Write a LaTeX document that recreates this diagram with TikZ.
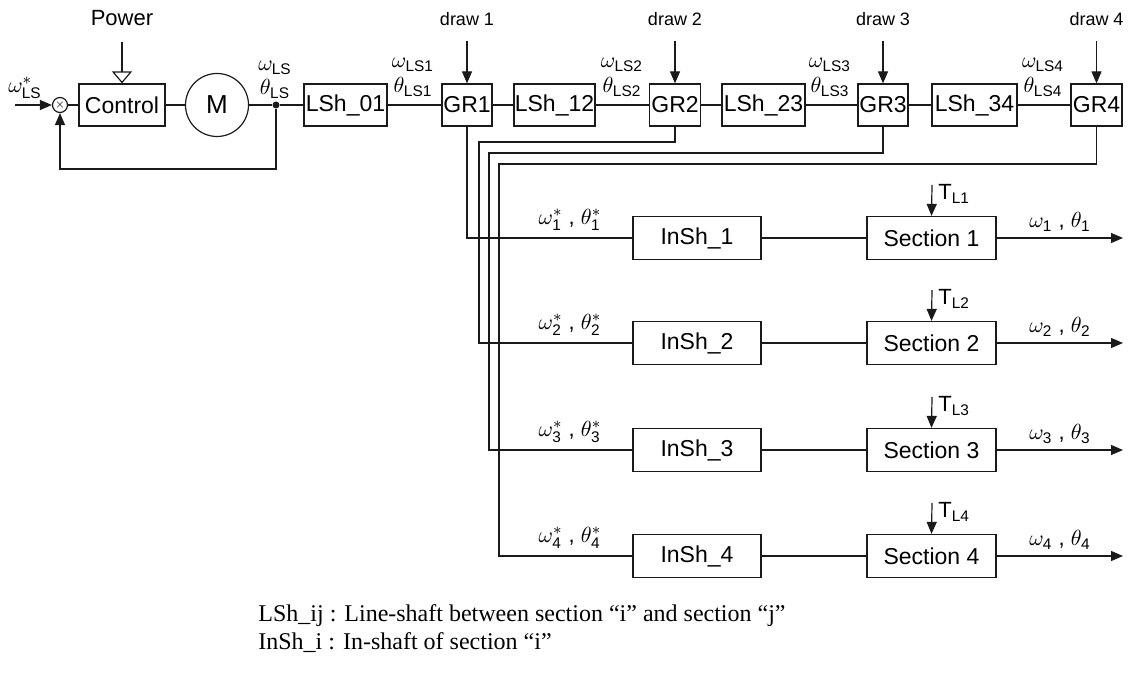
\documentclass[tikz,border=0pt]{standalone}
\usepackage{amsmath}
\usepackage{fontspec}
\setmainfont{Liberation Sans}
\newfontfamily\legendfont{Liberation Serif}
\usepackage{tikz}
\usetikzlibrary{calc,arrows.meta}
\definecolor{lineBlack}{HTML}{1A1A1A}
\tikzset{
  shaftbox/.style={rectangle, draw=lineBlack, line width=0.6pt, align=center, font=\fontsize{11.5}{13}\selectfont, minimum height=21pt, inner sep=0pt},
  motorcirc/.style={circle, draw=lineBlack, line width=0.6pt, font=\fontsize{13}{15}\selectfont, minimum size=31.5pt, inner sep=0pt},
  sumcirc/.style={circle, draw=lineBlack, line width=0.6pt, minimum size=7.5pt, inner sep=0pt, font=\tiny},
  tapdot/.style={circle, fill=lineBlack, minimum size=3.5pt, inner sep=0pt},
  flowarrow/.style={-{Triangle[length=6pt,width=5pt]}, line width=0.6pt, draw=lineBlack},
  powerarrow/.style={-{Triangle[open,length=6pt,width=10pt]}, line width=0.6pt, draw=lineBlack},
  shaftline/.style={line width=0.6pt, draw=lineBlack},
  siglabel/.style={font=\fontsize{11}{13}\selectfont, inner sep=1pt},
  drawlabel/.style={font=\fontsize{9}{11}\selectfont, inner sep=1pt},
  legendtext/.style={font=\legendfont\fontsize{12}{14}\selectfont, anchor=west, inner sep=0pt},
}

\begin{document}
\begin{tikzpicture}[x=0.5pt,y=-0.5pt]
  \useasboundingbox (0,0) rectangle (1128,673);

  % drive and line-shaft
  \node[sumcirc] (sum) at (60,105) {$\times$};
  \node[shaftbox, minimum width=43pt] (ctrl) at (122,105) {Control};
  \node[motorcirc] (motor) at (217,105) {M};
  \node[tapdot] (tap) at (276,105) {};
  \node[shaftbox, minimum width=41.5pt] (lsh01) at (345.5,105) {LSh\_01};
  \node[shaftbox, minimum width=25pt] (gr1) at (467,105) {GR1};
  \node[shaftbox, minimum width=40.5pt] (lsh12) at (554.5,105) {LSh\_12};
  \node[shaftbox, minimum width=25.5pt] (gr2) at (675,105) {GR2};
  \node[shaftbox, minimum width=41.5pt] (lsh23) at (763.5,105) {LSh\_23};
  \node[shaftbox, minimum width=25pt] (gr3) at (883,105) {GR3};
  \node[shaftbox, minimum width=42.5pt] (lsh34) at (974.5,105) {LSh\_34};
  \node[shaftbox, minimum width=25.5pt] (gr4) at (1096.5,105) {GR4};

  \coordinate (ref) at (15,105);
  \node[siglabel] (wref) at (25,88) {$\omega^{*}_{\text{LS}}$};
  \node[font=\fontsize{11}{13}\selectfont] (power) at (122,18) {Power};
  \coordinate (pw) at (122,42);

  \draw[flowarrow] (ref) -- (sum.west);
  \draw[powerarrow] (pw) -- (ctrl.north);
  \draw[shaftline] (sum) -- (ctrl) -- (motor) -- (tap) -- (lsh01) -- (gr1) -- (lsh12) -- (gr2) -- (lsh23) -- (gr3) -- (lsh34) -- (gr4);
  \draw[flowarrow] (tap) -- ++(0,64) -| (sum.south);

  \node[siglabel] (wls) at (275,68) {$\omega_{\text{LS}}$};
  \node[siglabel] (thls) at (275,89) {$\theta_{\text{LS}}$};
  \foreach \i/\x in {1/413,2/622,3/830,4/1043}{
    \node[siglabel] (wls\i) at (\x,65) {$\omega_{\text{LS\i}}$};
    \node[siglabel] (thls\i) at (\x,87) {$\theta_{\text{LS\i}}$};
    \node[drawlabel] (dl\i) at ($(gr\i.north)+(0,-64)$) {draw \i};
    \draw[flowarrow] ($(gr\i.north)+(0,-42)$) -- (gr\i.north);
  }

  % sections
  \foreach \i/\y in {1/238,2/343,3/450,4/556}{
    \node[shaftbox, minimum width=64pt, minimum height=21.5pt] (insh\i) at (697,\y) {InSh\_\i};
    \node[shaftbox, minimum width=64.5pt, minimum height=21.5pt] (sec\i) at (931.5,\y) {Section \i};
    \coordinate (tl\i) at (932,\y-53);
    \coordinate (out\i) at (1123,\y);
    \draw[shaftline] (insh\i) -- (sec\i);
    \draw[flowarrow] (tl\i) -- (sec\i.north);
    \draw[flowarrow] (sec\i) -- (out\i);
    \node[siglabel, anchor=west] (tlab\i) at (936,\y-44) {$\text{T}_{\text{L\i}}$};
    \node[siglabel] (inlab\i) at (570,\y-18) {$\omega^{*}_{\text{\i}}$ , $\theta^{*}_{\text{\i}}$};
    \node[siglabel] (outlab\i) at (1060,\y-16) {$\omega_{\text{\i}}$ , $\theta_{\text{\i}}$};
  }

  % feeds from the gear boxes
  \coordinate (f2) at (479,142);
  \coordinate (f3) at (489,153);
  \coordinate (f4) at (499,164);
  \draw[shaftline] (gr1.south) |- (insh1.west);
  \draw[shaftline] (gr2.south) |- (f2) |- (insh2.west);
  \draw[shaftline] (gr3.south) |- (f3) |- (insh3.west);
  \draw[shaftline] (gr4.south) |- (f4) |- (insh4.west);

  \node[legendtext] (leg1) at (258,616) {LSh\_ij : Line-shaft between section “i” and section “j”};
  \node[legendtext] (leg2) at (258,643) {InSh\_i : In-shaft of section “i”};
\end{tikzpicture}
\end{document}
